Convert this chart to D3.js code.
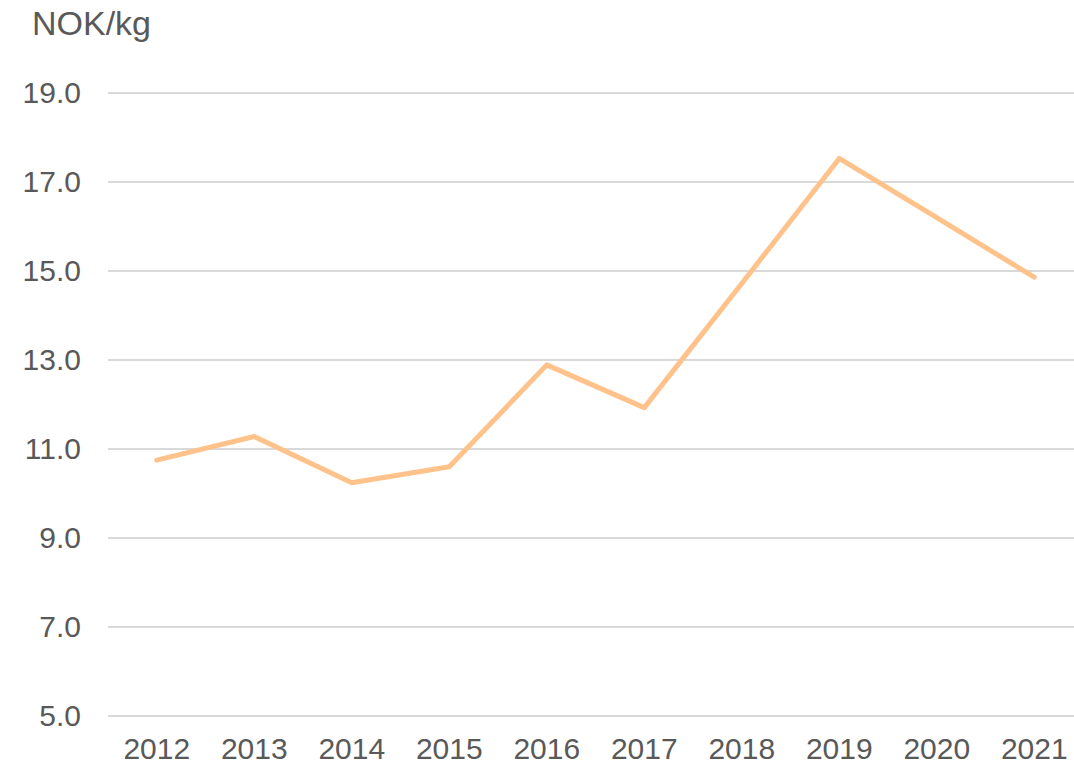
<!DOCTYPE html>
<html>
<head>
<meta charset="utf-8">
<script src="https://cdn.jsdelivr.net/npm/d3@7"></script>
<style>
  body { margin: 0; background: #fff; }
  svg { display: block; font-family: "Liberation Sans", Arial, sans-serif; }
  .tick text { fill: #595959; font-size: 30px; }
</style>
</head>
<body>
<svg width="1074" height="771"></svg>
<script>
// chart data
const years = ["2012", "2013", "2014", "2015", "2016", "2017", "2018", "2019", "2020", "2021"];
const price = [10.75, 11.28, 10.24, 10.6, 12.89, 11.93, 14.72, 17.53, 16.2, 14.86];
const yTicks = [5, 7, 9, 11, 13, 15, 17, 19];

const svg = d3.select("svg"),
      plotLeft = 108, plotRight = 1083,
      plotTop = 93, plotBottom = 716;

const x = d3.scaleBand()
            .domain(years)
            .range([plotLeft, plotRight]);

const y = d3.scaleLinear()
            .domain([5, 19])
            .range([plotBottom, plotTop]);

// gridlines
svg.append("g")
    .selectAll("line")
    .data(yTicks)
    .join("line")
    .attr("x1", plotLeft)
    .attr("x2", plotRight)
    .attr("y1", d => y(d))
    .attr("y2", d => y(d))
    .attr("stroke", "#d9d9d9")
    .attr("stroke-width", 2);

// y axis labels
svg.append("g")
    .attr("transform", `translate(${plotLeft - 27},0)`)
    .call(d3.axisLeft(y).tickValues(yTicks).tickFormat(d3.format(".1f")).tickSize(0).tickPadding(0))
    .call(g => g.select(".domain").remove());

// x axis labels
svg.append("g")
    .attr("transform", `translate(0,${plotBottom + 22})`)
    .call(d3.axisBottom(x).tickSize(0).tickPadding(0))
    .call(g => g.select(".domain").remove())
    .selectAll("text")
    .attr("dy", "0.71em");

// unit label
svg.append("text")
    .attr("x", 32)
    .attr("y", 35)
    .attr("fill", "#595959")
    .style("font-size", "34px")
    .text("NOK/kg");

const line = d3.line()
    .x((d, i) => x(years[i]) + x.bandwidth() / 2)
    .y(d => y(d));

svg.append("path")
    .datum(price)
    .attr("d", line)
    .attr("fill", "none")
    .attr("stroke", "#ffc28a")
    .attr("stroke-width", 5)
    .attr("stroke-linejoin", "round")
    .attr("stroke-linecap", "round");
</script>
</body>
</html>
